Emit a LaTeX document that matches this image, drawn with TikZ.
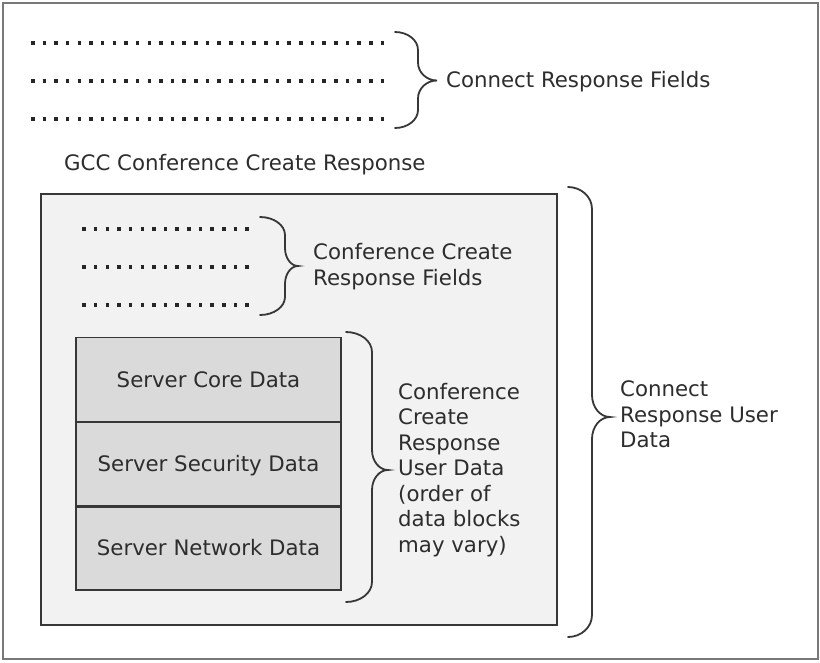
\documentclass[tikz,border=0pt]{standalone}
\usepackage{fontspec}
\setmainfont{DejaVu Sans}
\definecolor{txt}{RGB}{45,45,45}
\definecolor{framegray}{RGB}{120,120,120}
\definecolor{edge}{RGB}{55,55,55}
\definecolor{panel}{RGB}{242,242,242}
\definecolor{cellfill}{RGB}{218,218,218}
% Curly brace opening to the left, tip pointing right.
% #1 end x, #2 stem x, #3 tip x, #4 top y, #5 middle y, #6 bottom y, #7 corner radius
\newcommand\curlybrace[7]{%
  \draw[bracestyle]
    (#1,#4) .. controls ({#1+0.552*(#2-#1)},#4) and (#2,{#4+0.448*#7}) .. (#2,{#4+#7})
    -- (#2,{#5-#7}) .. controls (#2,{#5-0.448*#7}) and ({#3-0.552*(#3-#2)},#5) .. (#3,#5)
    .. controls ({#3-0.552*(#3-#2)},#5) and (#2,{#5+0.448*#7}) .. (#2,{#5+#7})
    -- (#2,{#6-#7}) .. controls (#2,{#6-0.448*#7}) and ({#1+0.552*(#2-#1)},#6) .. (#1,#6);}
\begin{document}
\begin{tikzpicture}[x=1pt,y=-1pt,
  % multi-line labels: the base anchor sits on the last line's baseline
  lbl/.style={font=\fontsize{21.3}{25.5}\selectfont, text=txt, inner sep=0pt, align=left, anchor=base west},
  cell/.style={draw=edge, line width=1.6pt, fill=cellfill, minimum width=265pt, minimum height=84.3pt,
    inner sep=0pt, text height=15.3pt, text depth=0pt, text=txt, font=\fontsize{21.3}{25.5}\selectfont},
  divider/.style={draw=edge, line width=1.6pt},
  dotrow/.style={draw=black!85, line width=3.6pt, dash pattern=on 3.6pt off 8.06pt},
  bracestyle/.style={draw=edge, line width=1.8pt, line cap=round}]
\useasboundingbox (0,0) rectangle (820,662);
% outer frame
\draw[draw=framegray, line width=2pt, fill=white] (3,3) rectangle (818,659);

% connect response fields
\foreach \yy in {43,81,119} \draw[dotrow] (30.9,\yy) -- (384.5,\yy);
\curlybrace{395}{418}{437}{32}{80.5}{128}{18}
\node[lbl] (crf) at (446,87.5) {Connect Response Fields};

\node[lbl] (gcc) at (64,170.5) {GCC Conference Create Response};

% conference create response panel
\draw[draw=edge, line width=1.6pt, fill=panel] (41,194) rectangle (557,625);
\foreach \yy in {229,267,305} \draw[dotrow] (82.2,\yy) -- (249.1,\yy);
\curlybrace{260}{285}{298}{217}{266}{315}{18}
\node[lbl] (ccrf) at (313,285) {Conference Create\\Response Fields};

% user data blocks
\node[cell] (core) at (208.5,379.5) {Server Core Data};
\node[cell] (sec) at (208.5,463.8) {Server Security Data};
\node[cell] (net) at (208.5,548.1) {Server Network Data};
\draw[divider] (core.south west) -- (core.south east);
\draw[divider] (sec.south west) -- (sec.south east);
\curlybrace{346}{372}{388}{332}{470}{602}{20}
\node[lbl] (ccrud) at (398,552.3) {Conference\\Create\\Response\\User Data\\(order of\\data blocks\\may vary)};

% connect response user data
\curlybrace{568}{592}{610}{187}{417}{637}{22}
\node[lbl] (crud) at (620,447.7) {Connect\\Response User\\Data};
\end{tikzpicture}
\end{document}
